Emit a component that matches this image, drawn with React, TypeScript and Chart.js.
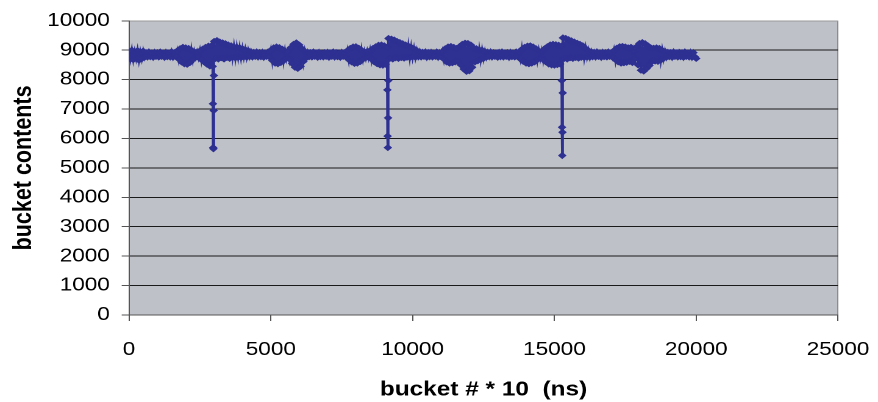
import { useEffect, useRef } from "react";
import { Chart, registerables } from "chart.js";

Chart.register(...registerables);

// ---- data ----
const xTickValues = [0, 5000, 10000, 15000, 20000, 25000];
const yTickValues = [0, 1000, 2000, 3000, 4000, 5000, 6000, 7000, 8000, 9000, 10000];
const xTitle = "bucket # * 10  (ns)";
const yTitle = "bucket contents";

// spacing of the sampled buckets along x (bucket # * 10)
const bucketStep = 50;
// bucket contents sampled every bucketStep from 0 to 20000
const bucketContents = [
  8960, 8700, 9000, 8680, 8950, 8720, 8990, 8660, 8940, 8710, 8970, 8760, 8920, 8770, 8940, 8780, 8910, 8760, 8930, 8790,
  8920, 8770, 8940, 8790, 8910, 8760, 8930, 8780, 8900, 8770, 8950, 8760, 8920, 8790, 8980, 8700, 9050, 8600, 9100, 8540,
  9080, 8520, 9060, 8580, 9000, 8680, 8950, 8760, 8940, 8750, 8980, 8680, 9040, 8600, 9100, 8520, 9140, 8460, 9150, 8450,
  9300, 8720, 9330, 8700, 9280, 8740, 9250, 8700, 9220, 8750, 9180, 8720, 9150, 8760, 9120, 8740, 9100, 8760, 9080, 8750,
  9050, 8770, 9020, 8760, 8990, 8780, 8950, 8770, 8930, 8790, 8940, 8770, 8920, 8780, 8930, 8760, 8910, 8790, 8940, 8770,
  9000, 8650, 9080, 8560, 9110, 8540, 9090, 8580, 9040, 8640, 8980, 8720, 8950, 8700, 9080, 8550, 9200, 8420, 9250, 8380,
  9180, 8450, 9050, 8620, 8960, 8740, 8930, 8780, 8920, 8770, 8940, 8790, 8910, 8760, 8930, 8780, 8900, 8770, 8920, 8790,
  8930, 8760, 8910, 8790, 8940, 8770, 8920, 8780, 8900, 8760, 8930, 8790, 8920, 8770, 8990, 8680, 9060, 8600, 9110, 8550,
  9120, 8560, 9070, 8610, 9000, 8700, 8950, 8740, 8960, 8750, 8990, 8700, 9060, 8600, 9120, 8540, 9170, 8500, 9180, 8490,
  9150, 8520, 9100, 9400, 8720, 9380, 8700, 9350, 8740, 9300, 8720, 9260, 8750, 9220, 8730, 9180, 8760, 9140, 8750, 9100,
  8770, 9050, 8760, 8990, 8780, 8950, 8770, 8930, 8790, 8940, 8760, 8920, 8780, 8930, 8770, 8910, 8790, 8940, 8760, 8920,
  8780, 8960, 8700, 9050, 8600, 9110, 8560, 9130, 8570, 9100, 8600, 9060, 8620, 9120, 8500, 9200, 8360, 9240, 8280, 9230,
  8300, 9180, 8420, 9080, 8600, 9050, 8640, 9020, 8680, 9000, 8720, 8960, 8760, 8930, 8780, 8940, 8770, 8920, 8790, 8910,
  8760, 8930, 8780, 8940, 8770, 8910, 8790, 8920, 8760, 8930, 8780, 8910, 8770, 8940, 8790, 8920, 8700, 9030, 8620, 9100,
  8560, 9140, 8540, 9150, 8560, 9110, 8600, 9050, 8680, 8980, 8720, 8960, 8680, 9050, 8600, 9120, 8530, 9180, 8500, 9200,
  8490, 9190, 8510, 9170, 8530, 9140, 9420, 8720, 9400, 8700, 9360, 8740, 9320, 8720, 9280, 8750, 9240, 8730, 9200, 8760,
  9150, 8750, 9060, 8770, 8990, 8760, 8950, 8780, 8930, 8770, 8940, 8790, 8910, 8760, 8930, 8780, 8920, 8770, 8940, 8790,
  8910, 8760, 8990, 8680, 9070, 8600, 9120, 8560, 9130, 8570, 9110, 8590, 9080, 8620, 9100, 8580, 8960, 8720, 9120, 8500,
  9230, 8320, 9260, 8290, 9220, 8380, 9150, 8480, 9080, 8620, 9070, 8630, 9080, 8620, 9060, 8660, 9000, 8720, 8960, 8760,
  8930, 8780, 8920, 8760, 8940, 8790, 8910, 8770, 8930, 8780, 8920, 8760, 8940, 8790, 8910, 8770, 8930, 8760, 8920, 8780,
  8720,
];

// the three sharp drops
const dip1X = [2960, 2968, 2976, 2984, 2992];
const dip1Y = [7180, 5690, 5650, 6950, 8140];
const dip2X = [9110, 9118, 9126, 9134, 9142];
const dip2Y = [7650, 6080, 5690, 6700, 7970];
const dip3X = [15260, 15268, 15276, 15284, 15292];
const dip3Y = [7970, 6380, 5420, 6210, 7550];

// ---- styling ----
const SERIES_COLOR = "#2E3192";
const PLOT_BG = "#BFC1C9";
const FONT = "'Liberation Sans', Arial, sans-serif";
// the reference is horizontally stretched; draw narrower, display wider
const DRAW_W = 720;
const DRAW_H = 402;
const SHOW_W = 878;
const SHOW_H = 402;

const plotBackground = {
  id: "plotBackground",
  beforeDraw(chart: any) {
    const { ctx, chartArea } = chart;
    if (!chartArea) return;
    ctx.save();
    ctx.fillStyle = PLOT_BG;
    ctx.fillRect(chartArea.left, chartArea.top, chartArea.right - chartArea.left, chartArea.bottom - chartArea.top);
    ctx.restore();
  },
};

function buildPoints() {
  const pts: { x: number; y: number }[] = bucketContents.map((y, i) => ({ x: i * bucketStep, y }));
  const add = (xs: number[], ys: number[]) => xs.forEach((x, i) => pts.push({ x, y: ys[i] }));
  add(dip1X, dip1Y);
  add(dip2X, dip2Y);
  add(dip3X, dip3Y);
  pts.sort((a, b) => a.x - b.x);
  return pts;
}

const plain = (v: any) => String(v);

export default function App() {
  const canvasRef = useRef<HTMLCanvasElement | null>(null);

  useEffect(() => {
    document.body.style.margin = "0";
    const canvas = canvasRef.current;
    if (!canvas) return;
    const chart = new Chart(canvas, {
      type: "line",
      data: {
        datasets: [
          {
            data: buildPoints(),
            borderColor: SERIES_COLOR,
            backgroundColor: SERIES_COLOR,
            borderWidth: 2,
            pointStyle: "rectRot",
            pointRadius: 3,
            pointBorderWidth: 0.8,
            pointBackgroundColor: SERIES_COLOR,
            pointBorderColor: SERIES_COLOR,
            tension: 0,
            fill: false,
          },
        ],
      },
      plugins: [plotBackground],
      options: {
        responsive: false,
        devicePixelRatio: 2,
        animation: false,
        events: [],
        layout: { padding: { left: 0, right: 32.8, top: 20, bottom: 0 } },
        plugins: {
          legend: { display: false },
          tooltip: { enabled: false },
        },
        scales: {
          x: {
            type: "linear",
            min: xTickValues[0],
            max: xTickValues[xTickValues.length - 1],
            afterBuildTicks: (scale: any) => {
              scale.ticks = xTickValues.map((v) => ({ value: v }));
            },
            afterFit: (scale: any) => {
              scale.height = 87;
              scale.paddingLeft = 0;
              scale.paddingRight = 0;
            },
            ticks: {
              autoSkip: false,
              maxRotation: 0,
              color: "#000",
              padding: 18,
              font: { family: FONT, size: 18.5 },
              callback: plain,
            },
            grid: {
              color: (ctx: any) =>
                ctx.tick && ctx.tick.value === xTickValues[xTickValues.length - 1] ? "#8c8c8c" : "rgba(0,0,0,0)",
              tickColor: "#555",
              tickLength: 6,
              lineWidth: 1,
            },
            border: { color: "#555", width: 1 },
            title: {
              display: true,
              text: xTitle,
              color: "#000",
              font: { family: FONT, size: 20, weight: "bold" },
              padding: { top: 0, bottom: 0 },
            },
          },
          y: {
            type: "linear",
            min: yTickValues[0],
            max: yTickValues[yTickValues.length - 1],
            afterBuildTicks: (scale: any) => {
              scale.ticks = yTickValues.map((v) => ({ value: v }));
            },
            afterFit: (scale: any) => {
              scale.width = 105.8;
            },
            ticks: {
              autoSkip: false,
              color: "#000",
              padding: 9.7,
              font: { family: FONT, size: 18.5 },
              callback: plain,
            },
            grid: {
              color: (ctx: any) =>
                ctx.tick && ctx.tick.value === yTickValues[yTickValues.length - 1] ? "#9a9a9a" : "#1a1a1a",
              tickColor: "#555",
              tickLength: 6,
              lineWidth: 1,
            },
            border: { color: "#555", width: 1 },
            title: {
              display: true,
              text: yTitle,
              color: "#000",
              font: { family: FONT, size: 21.5, weight: "bold" },
              padding: { top: 6.5, bottom: 0 },
            },
          },
        },
      } as any,
    });
    return () => {
      chart.destroy();
    };
  }, []);

  return (
    <canvas
      ref={canvasRef}
      width={DRAW_W}
      height={DRAW_H}
      style={{ width: `${SHOW_W}px`, height: `${SHOW_H}px`, display: "block" }}
    />
  );
}
